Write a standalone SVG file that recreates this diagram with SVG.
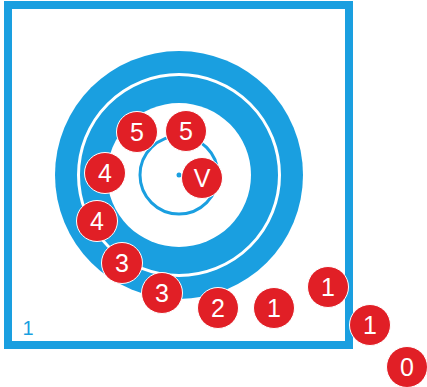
<svg xmlns="http://www.w3.org/2000/svg" width="427" height="387" viewBox="0 0 427 387">
<style>
.b{fill:#1a9fe0}
.m circle{fill:#e11f26;stroke:#fff;stroke-width:1}
.m text{fill:#fff;font-family:"Liberation Sans",Arial,sans-serif;font-size:25px;text-anchor:middle}
</style>
<rect width="427" height="387" fill="#fff"/>
<g id="frame">
<rect x="8" y="5" width="341" height="340" fill="none" stroke="#1a9fe0" stroke-width="8"/>
<text x="28" y="335" fill="#1a9fe0" font-family="Liberation Sans,Arial,sans-serif" font-size="20" text-anchor="middle">1</text>
</g>
<g id="target">
<circle cx="179" cy="175" r="124" class="b"/>
<circle cx="179" cy="175" r="100.5" fill="none" stroke="#fff" stroke-width="3"/>
<circle cx="179" cy="175" r="72" fill="#fff"/>
<circle cx="179" cy="175" r="39" fill="none" stroke="#1a9fe0" stroke-width="3"/>
<circle cx="179" cy="175" r="2.5" class="b"/>
</g>
<g class="m">
<g id="s5a"><circle cx="137" cy="132" r="20.5"/><text x="137" y="141">5</text></g>
<g id="s5b"><circle cx="186" cy="131" r="20.5"/><text x="186" y="140">5</text></g>
<g id="sV"><circle cx="202" cy="178" r="20.5"/><text x="202" y="187">V</text></g>
<g id="s4a"><circle cx="105" cy="173" r="20.5"/><text x="105" y="182">4</text></g>
<g id="s4b"><circle cx="97" cy="221" r="20.5"/><text x="97" y="230">4</text></g>
<g id="s3a"><circle cx="122" cy="263" r="20.5"/><text x="122" y="272">3</text></g>
<g id="s3b"><circle cx="162" cy="293" r="20.5"/><text x="162" y="302">3</text></g>
<g id="s2"><circle cx="218" cy="308" r="20.5"/><text x="218" y="317">2</text></g>
<g id="s1a"><circle cx="274" cy="308" r="20.5"/><text x="274" y="317">1</text></g>
<g id="s1b"><circle cx="328" cy="287" r="20.5"/><text x="328" y="296">1</text></g>
<g id="s1c"><circle cx="370" cy="325" r="20.5"/><text x="370" y="334">1</text></g>
<g id="s0"><circle cx="407" cy="367" r="20.5"/><text x="407" y="376">0</text></g>
</g>
</svg>
